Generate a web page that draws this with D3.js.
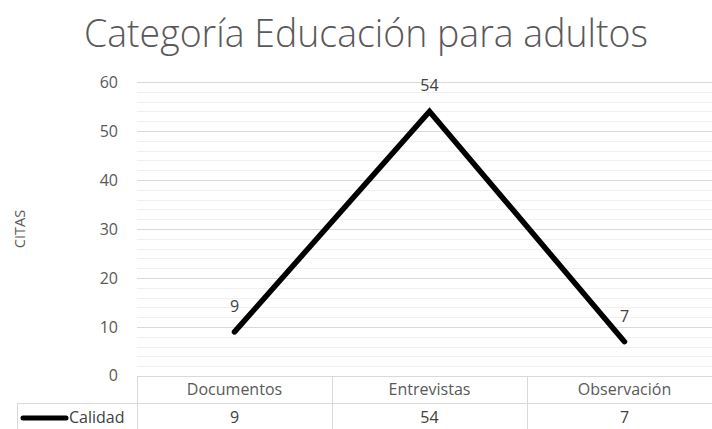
<!DOCTYPE html>
<html>
<head>
<meta charset="utf-8">
<script src="https://cdn.jsdelivr.net/npm/d3@7"></script>
<style>
  html, body { margin: 0; padding: 0; background: #fff; }
  svg { display: block; font-family: "Open Sans", "Noto Sans", sans-serif; }
</style>
</head>
<body>
<svg id="chart" width="712" height="429"></svg>
<script>
const title = "Categoría Educación para adultos";
const yAxisTitle = "CITAS";
const seriesName = "Calidad";
const categories = ["Documentos", "Entrevistas", "Observación"];
const values = [9, 54, 7];
const yTicks = [0, 10, 20, 30, 40, 50, 60];
const yMinorStep = 2;

const svg = d3.select("#chart");
const W = 712, H = 429;
const plotLeft = 137, plotRight = 722, plotTop = 82, plotBottom = 376;
const tableRow1Bottom = 403, tableBottom = 429, legendLeft = 17;

const x = d3.scaleBand().domain(categories).range([plotLeft, plotRight]).padding(0);
const y = d3.scaleLinear().domain([0, 60]).range([plotBottom, plotTop]);
const cx = c => x(c) + x.bandwidth() / 2;

// Title
svg.append("text")
  .attr("x", 366).attr("y", 47)
  .attr("text-anchor", "middle")
  .attr("font-size", 38)
  .attr("font-weight", 300)
  .attr("fill", "#595959")
  .attr("textLength", 564)
  .attr("lengthAdjust", "spacingAndGlyphs")
  .text(title);

// Minor gridlines
const minor = d3.range(0, 60 + 0.001, yMinorStep).filter(v => !yTicks.includes(v));
svg.append("g").selectAll("line").data(minor).join("line")
  .attr("x1", plotLeft).attr("x2", W)
  .attr("y1", d => Math.round(y(d)) + 0.5).attr("y2", d => Math.round(y(d)) + 0.5)
  .attr("stroke", "#f0f0f0").attr("stroke-width", 1);

// Major gridlines (excluding 0, which is the table border)
svg.append("g").selectAll("line").data(yTicks.filter(v => v !== 0)).join("line")
  .attr("x1", plotLeft).attr("x2", W)
  .attr("y1", d => Math.round(y(d)) + 0.5).attr("y2", d => Math.round(y(d)) + 0.5)
  .attr("stroke", "#d9d9d9").attr("stroke-width", 1);

// Y axis labels
const yAxis = d3.axisLeft(y).tickValues(yTicks).tickSize(0).tickPadding(0);
const gy = svg.append("g").attr("transform", `translate(118,0)`).call(yAxis);
gy.select(".domain").remove();
gy.selectAll("text")
  .attr("font-family", "\"Open Sans\", sans-serif")
  .attr("font-size", 16)
  .attr("fill", "#595959")
  .attr("x", 0)
  .attr("dy", "0.36em");
gy.selectAll("text").filter(d => d === 0).attr("dy", "0.25em");

// Y axis title
svg.append("text")
  .attr("transform", "translate(25,229) rotate(-90)")
  .attr("text-anchor", "middle")
  .attr("font-size", 14.5)
  .attr("fill", "#595959")
  .text(yAxisTitle);

// Table
const tb = svg.append("g").attr("stroke", "#d9d9d9").attr("stroke-width", 1);
tb.append("line").attr("x1", plotLeft).attr("x2", W).attr("y1", plotBottom + 0.5).attr("y2", plotBottom + 0.5);
tb.append("line").attr("x1", legendLeft).attr("x2", W).attr("y1", tableRow1Bottom + 0.5).attr("y2", tableRow1Bottom + 0.5);
tb.append("line").attr("x1", legendLeft + 0.5).attr("x2", legendLeft + 0.5).attr("y1", tableRow1Bottom).attr("y2", tableBottom);
tb.selectAll("line.v").data(categories).join("line").attr("class", "v")
  .attr("x1", d => Math.round(x(d)) + 0.5).attr("x2", d => Math.round(x(d)) + 0.5)
  .attr("y1", plotBottom).attr("y2", tableBottom);

// Category header
svg.append("g").selectAll("text").data(categories).join("text")
  .attr("x", d => cx(d)).attr("y", 395)
  .attr("text-anchor", "middle")
  .attr("font-size", 16).attr("fill", "#595959")
  .text(d => d);

// Table values
svg.append("g").selectAll("text").data(values).join("text")
  .attr("x", (d, i) => cx(categories[i])).attr("y", 423)
  .attr("text-anchor", "middle")
  .attr("font-size", 16).attr("fill", "#404040")
  .text(d => d);

// Legend key in table
svg.append("line")
  .attr("x1", 23).attr("x2", 66).attr("y1", 418).attr("y2", 418)
  .attr("stroke", "#000").attr("stroke-width", 5).attr("stroke-linecap", "round");
svg.append("text")
  .attr("x", 69).attr("y", 423)
  .attr("font-size", 16).attr("fill", "#404040")
  .text(seriesName);

// Line
const line = d3.line().x((d, i) => cx(categories[i])).y(d => y(d));
svg.append("path")
  .datum(values)
  .attr("d", line)
  .attr("fill", "none")
  .attr("stroke", "#000")
  .attr("stroke-width", 5.5)
  .attr("stroke-linecap", "round")
  .attr("stroke-linejoin", "miter");

// Data labels
svg.append("g").selectAll("text").data(values).join("text")
  .attr("x", (d, i) => cx(categories[i])).attr("y", d => y(d) - 20)
  .attr("text-anchor", "middle")
  .attr("font-size", 16).attr("fill", "#404040")
  .text(d => d);
</script>
</body>
</html>
